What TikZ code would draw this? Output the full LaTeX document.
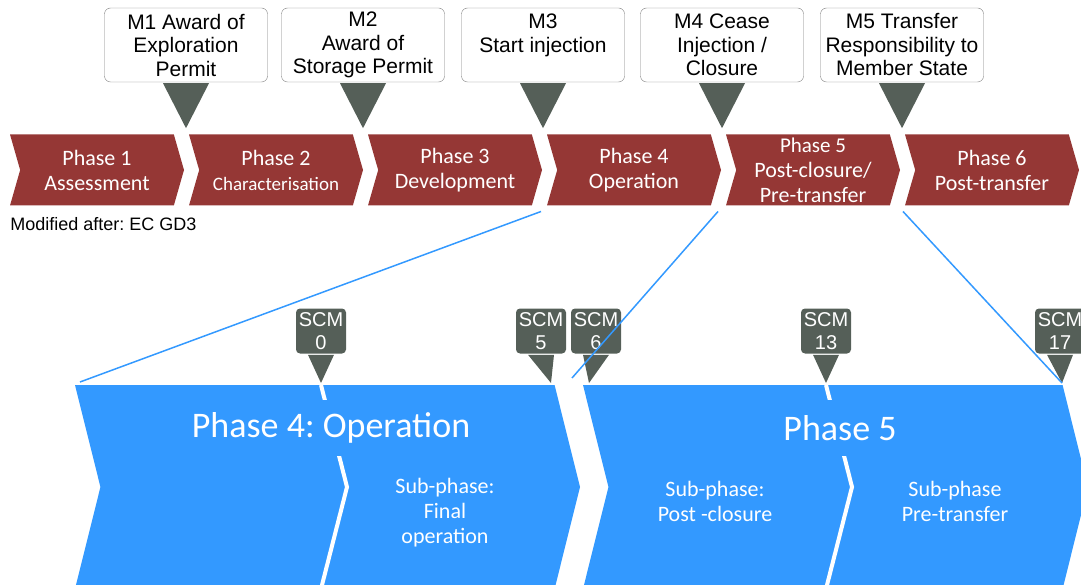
\documentclass[tikz,border=0pt]{standalone}
\usepackage{fontspec}
\setmainfont{Liberation Sans}
\newfontfamily\calibri{Carlito}
\usetikzlibrary{shapes.symbols,calc,positioning}
\frenchspacing

\definecolor{phasered}{RGB}{149,55,53}
\definecolor{phaseblue}{RGB}{51,153,255}
\definecolor{pingrey}{RGB}{85,95,88}
\definecolor{boxline}{RGB}{127,127,127}

\begin{document}
\begin{tikzpicture}[x=1pt, y=-1pt, semithick,
    phase/.style={signal, signal from=west, signal to=east, signal pointer angle=148,
        fill=phasered, text=white, minimum width=174pt, minimum height=71pt, inner sep=0pt, outer sep=0pt,
        align=center, font=\calibri\fontsize{22}{25}\selectfont},
    bigphase/.style={signal, signal from=west, signal to=east, signal pointer angle=152,
        fill=phaseblue, minimum width=505pt, minimum height=204pt, inner sep=0pt, outer sep=0pt},
    milestone/.style={draw=boxline, thin, fill=white, rounded corners=6pt, minimum width=163pt, minimum height=74pt,
        inner sep=2pt, align=center, font=\fontsize{21}{23.5}\selectfont},
    scm/.style={fill=pingrey, text=white, rounded corners=4pt, minimum width=50pt, minimum height=45pt,
        inner sep=0pt, align=center, font=\fontsize{20}{23}\selectfont},
    pin/.style={fill=pingrey},
    link/.style={draw=phaseblue, line width=1.5pt},
    divider/.style={draw=white, line width=4pt},
    title/.style={fill=phaseblue, text=white, inner sep=3pt, minimum height=56pt, font=\calibri\fontsize{36}{40}\selectfont},
    subphase/.style={text=white, align=center, font=\calibri\fontsize{22}{25}\selectfont}]

    \clip (0,0) rectangle (1081,585);

    % phases of the project
    \node[phase] (r1) at (97,170)  {Phase 1\\Assessment};
    \node[phase] (r2) at (276,170) {Phase 2\\{\fontsize{19}{25}\selectfont Characterisation}};
    \node[phase] (r3) at (455,170) {Phase 3\\Development};
    \node[phase] (r4) at (634,170) {Phase 4\\Operation};
    \node[phase] (r5) at (813,170) {\fontsize{21}{24.5}\selectfont Phase 5\\Post-closure/\\Pre-transfer};
    \node[phase] (r6) at (992,170) {Phase 6\\Post-transfer};

    \node[anchor=west, inner sep=0pt, font=\fontsize{18}{20}\selectfont] (src) at (10,224) {Modified after: EC GD3};

    % milestones
    \node[milestone] (m1) at (186,45) {M1 Award of\\Exploration\\Permit};
    \node[milestone] (m2) at (363,45) {M2\\Award of\\Storage Permit};
    \node[milestone] (m3) at (543,45) {M3\\Start injection\\\mbox{}};
    \node[milestone] (m4) at (722,45) {M4 Cease\\Injection /\\Closure};
    \node[milestone] (m5) at (902,45) {M5 Transfer\\Responsibility to\\Member State};

    \fill[pin] ($(m1.south)+(-23,1)$) -- ($(m1.south)+(23,1)$) -- ($(m1.south)+(0,46)$) -- cycle;
    \fill[pin] ($(m2.south)+(-23,1)$) -- ($(m2.south)+(23,1)$) -- ($(m2.south)+(0,46)$) -- cycle;
    \fill[pin] ($(m3.south)+(-23,1)$) -- ($(m3.south)+(23,1)$) -- ($(m3.south)+(0,46)$) -- cycle;
    \fill[pin] ($(m4.south)+(-23,1)$) -- ($(m4.south)+(23,1)$) -- ($(m4.south)+(0,46)$) -- cycle;
    \fill[pin] ($(m5.south)+(-23,1)$) -- ($(m5.south)+(23,1)$) -- ($(m5.south)+(0,46)$) -- cycle;

    % zoom on phases 4 and 5
    \node[bigphase] (b4) at (327.5,487) {};
    \node[bigphase] (b5) at (835.5,487) {};

    \draw[divider] (321,385) -- (347,487) -- (321,589);
    \draw[divider] (826,385) -- (852,487) -- (826,589);

    \node[title] (t4) at (331,428) {Phase 4: Operation};
    \node[title] (t5) at (840,428) {Phase 5};

    \node[subphase] (final) at (445,513) {Sub-phase:\\Final\\operation};
    \node[subphase] (post)  at (715,501) {Sub-phase:\\Post -closure};
    \node[subphase] (pre)   at (955,501) {Sub-phase\\Pre-transfer};

    % site closure milestones
    \node[scm] (s0)  at (321,331)  {SCM\\0};
    \node[scm] (s5)  at (541,331)  {SCM\\5};
    \node[scm] (s6)  at (596,331)  {SCM\\6};
    \node[scm] (s13) at (826,331)  {SCM\\13};
    \node[scm] (s17) at (1060,331) {SCM\\17};

    \coordinate (k0)  at (321,383);
    \coordinate (k5)  at (551,383);
    \coordinate (k6)  at (589,383);
    \coordinate (k13) at (826,383);
    \coordinate (k17) at (1062,383);

    \fill[pin] ($(s0.south)+(-13,1)$)  -- ($(s0.south)+(13,1)$)  -- (k0)  -- cycle;
    \fill[pin] ($(s5.south)+(-13,1)$)  -- ($(s5.south)+(13,1)$)  -- (k5)  -- cycle;
    \fill[pin] ($(s6.south)+(-13,1)$)  -- ($(s6.south)+(13,1)$)  -- (k6)  -- cycle;
    \fill[pin] ($(s13.south)+(-13,1)$) -- ($(s13.south)+(13,1)$) -- (k13) -- cycle;
    \fill[pin] ($(s17.south)+(-13,1)$) -- ($(s17.south)+(13,1)$) -- (k17) -- cycle;

    \path[link] ($(r4.south west)+(-6,6)$) edge ($(b4.north west)+(5,-3)$)
                ($(r5.south west)+(-8,6)$) edge ($(b5.north west)+(-11,-7)$)
                ($(r6.south west)+(-2,6)$) edge (k17);
\end{tikzpicture}
\end{document}
